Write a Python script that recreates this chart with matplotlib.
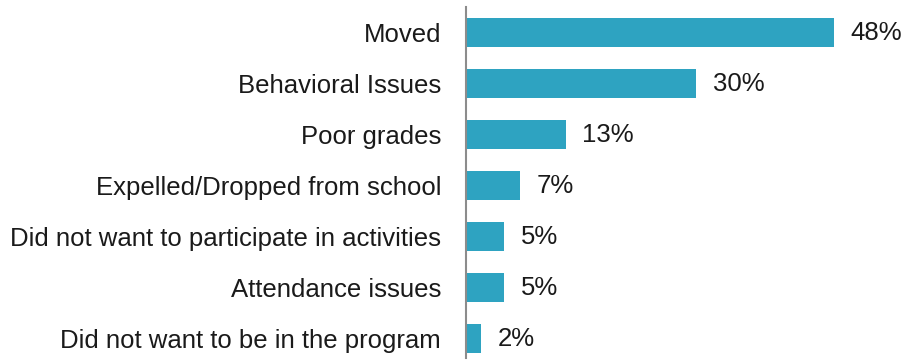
import matplotlib
matplotlib.use('Agg')
import matplotlib.pyplot as plt

# reasons for leaving the program, top to bottom
reasons = [
    "Moved",
    "Behavioral Issues",
    "Poor grades",
    "Expelled/Dropped from school",
    "Did not want to participate in activities",
    "Attendance issues",
    "Did not want to be in the program",
]
shares = [48, 30, 13, 7, 5, 5, 2]

BAR_COLOR = "#2ea3c1"
TEXT_COLOR = "#1a1a1a"
FONT_SIZE = 18.5

plt.rcParams['font.family'] = ['Liberation Sans', 'DejaVu Sans']

fig = plt.figure(figsize=(9.05, 3.6), dpi=100)
W, H = 905, 360
left, right, top, bottom = 466, 903, 7, 358
ax = fig.add_axes([left / W, 1 - bottom / H, (right - left) / W, (bottom - top) / H])

ypos = list(range(len(reasons)))
ax.barh(ypos, shares, height=0.57, color=BAR_COLOR)

ax.set_xlim(0, 57)
ax.set_ylim(6.38, -0.5)

for y, v in zip(ypos, shares):
    ax.annotate(f"{v}%", xy=(v, y), xytext=(12, 0), textcoords="offset points",
                va="center", ha="left", fontsize=FONT_SIZE, color=TEXT_COLOR)

ax.set_yticks(ypos)
ax.set_yticklabels(reasons, fontsize=FONT_SIZE, color=TEXT_COLOR)
ax.tick_params(axis='y', length=0, pad=18)
ax.set_xticks([])

for side in ['top', 'right', 'bottom']:
    ax.spines[side].set_visible(False)
ax.spines['left'].set_color("#8c8c8c")
ax.spines['left'].set_linewidth(1.5)

fig.savefig("out.png", dpi=100)
